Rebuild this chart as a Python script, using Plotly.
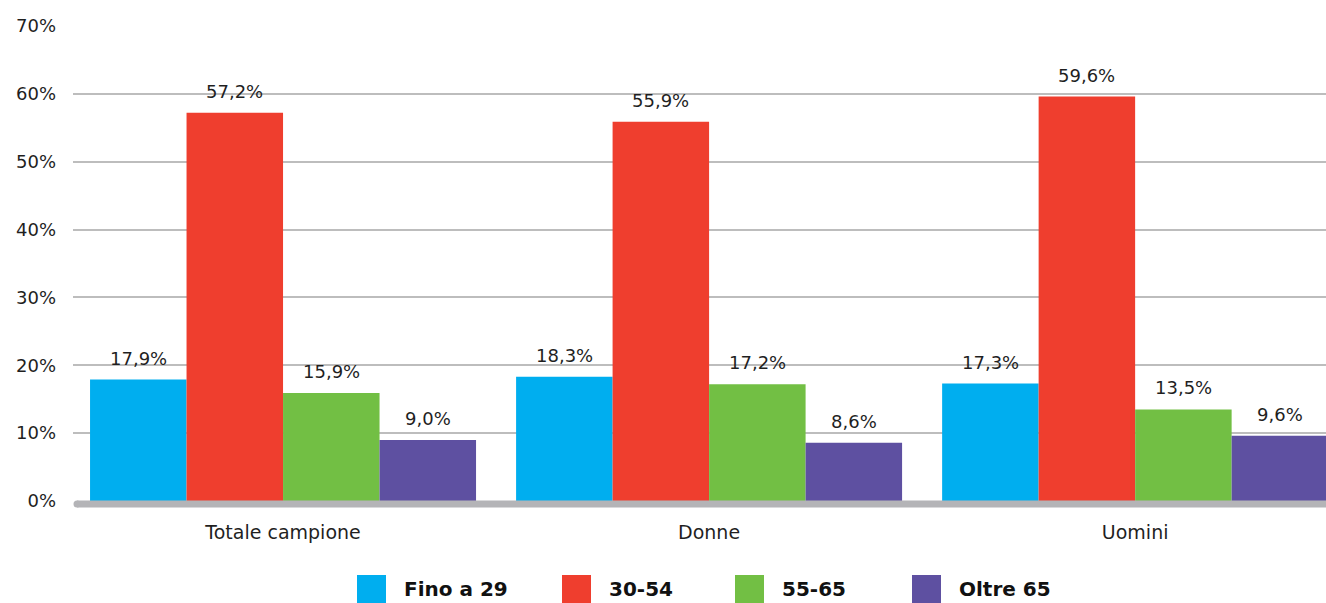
import plotly.graph_objects as go

categories = ["Totale campione", "Donne", "Uomini"]
series_names = ["Fino a 29", "30-54", "55-65", "Oltre 65"]
fino_29 = [17.9, 18.3, 17.3]
da_30_54 = [57.2, 55.9, 59.6]
da_55_65 = [15.9, 17.2, 13.5]
oltre_65 = [9.0, 8.6, 9.6]
y_ticks = [0, 10, 20, 30, 40, 50, 60, 70]
y_tick_text = [f"{t}%" for t in y_ticks]

series_values = [fino_29, da_30_54, da_55_65, oltre_65]
colors = ["#00AEEF", "#EF3E2E", "#72BF44", "#5E50A1"]

FONT = "DejaVu Sans"
TEXT = "#1f1f1f"
BARGAP = 0.094
W = 1326
PLOT_L, PLOT_TOP, PLOT_BOT = 73, 26, 501

fig = go.Figure()
for name, vals, col in zip(series_names, series_values, colors):
    fig.add_trace(go.Bar(
        name=name, x=categories, y=vals, marker=dict(color=col, line=dict(width=0)),
        showlegend=False,
    ))

# value labels above each bar
n = len(series_names)
bw = (1 - BARGAP) / n
annotations = []
for j, vals in enumerate(series_values):
    for i, v in enumerate(vals):
        annotations.append(dict(
            x=i + (j - (n - 1) / 2) * bw, y=v, xref="x", yref="y",
            text=f"{v:.1f}%".replace(".", ","), showarrow=False,
            yanchor="bottom", yshift=9,
            font=dict(family=FONT, size=18, color=TEXT),
        ))

def py(pix):
    return (PLOT_BOT - pix) / (PLOT_BOT - PLOT_TOP)

def px_(pix):
    return (pix - PLOT_L) / (W - PLOT_L)

# custom legend with large square swatches
legend_x = [357, 562, 735, 912]
shapes = []
for name, col, px in zip(series_names, colors, legend_x):
    shapes.append(dict(type="rect", xref="paper", yref="paper",
                       x0=px_(px), x1=px_(px + 29), y0=py(603), y1=py(575),
                       fillcolor=col, line=dict(width=0), layer="above"))
    annotations.append(dict(x=px_(px + 45), y=py(589), xref="paper", yref="paper",
                            text=f"<b>{name}</b>", showarrow=False,
                            xanchor="left", yanchor="middle",
                            font=dict(family=FONT, size=20, color="#111111")))

# thick baseline at 0% with a rounded left end
shapes.append(dict(type="line", xref="paper", yref="paper",
                   x0=px_(77), x1=1, y0=py(504), y1=py(504),
                   line=dict(color="#B4B4B7", width=7), layer="above"))
shapes.append(dict(type="circle", xref="paper", yref="paper",
                   x0=px_(73.5), x1=px_(80.5), y0=py(507.5), y1=py(500.5),
                   fillcolor="#B4B4B7", line=dict(width=0), layer="above"))

fig.update_layout(
    width=1326, height=603,
    margin=dict(l=PLOT_L, r=0, t=PLOT_TOP, b=603 - PLOT_BOT),
    paper_bgcolor="white", plot_bgcolor="white",
    barmode="group", bargap=BARGAP, bargroupgap=0,
    font=dict(family=FONT, size=18, color=TEXT),
    xaxis=dict(range=[-0.493, 2.448], showgrid=False, zeroline=False, showline=False,
               ticks="", ticklabelstandoff=18, tickfont=dict(size=19, color=TEXT)),
    yaxis=dict(range=[0, 70], tickmode="array", tickvals=y_ticks, ticktext=y_tick_text,
               showgrid=True, gridcolor="#BDBDBD", gridwidth=1.5, zeroline=False,
               showline=False, ticks="", ticklabelstandoff=16,
               tickfont=dict(size=18, color=TEXT)),
    annotations=annotations, shapes=shapes,
)

fig.write_html("out.html")
